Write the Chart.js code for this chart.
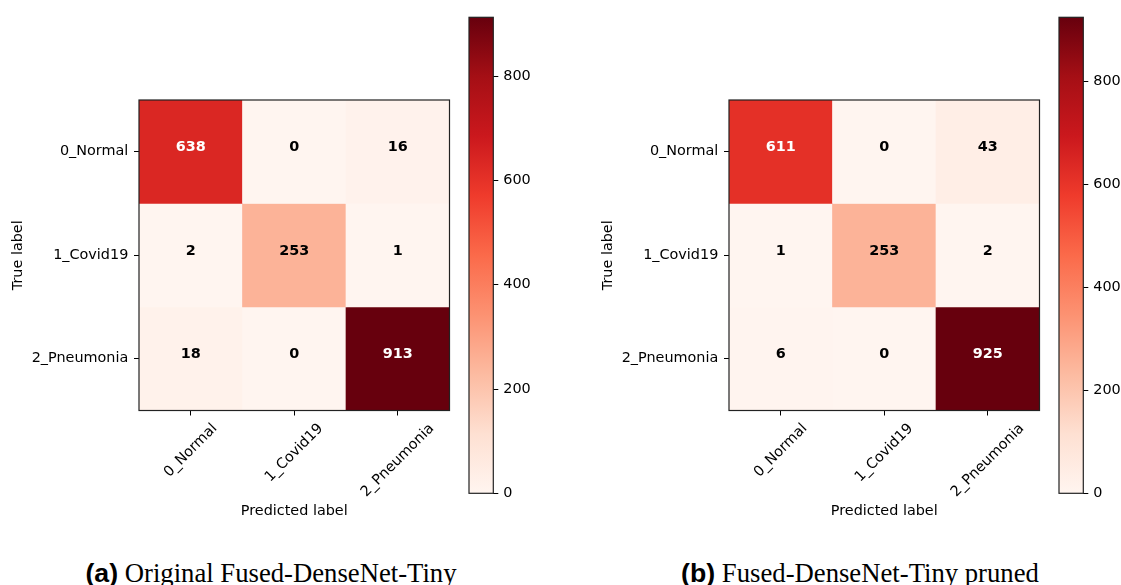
<!DOCTYPE html>
<html>
<head>
<meta charset="utf-8">
<script src="https://cdn.jsdelivr.net/npm/chart.js@4.4.1/dist/chart.umd.min.js"></script>
<style>
  html, body { margin: 0; padding: 0; background: #fff; overflow: hidden; }
  #fig { position: relative; width: 1121px; height: 585px; background: #fff; }
  #fig canvas { position: absolute; top: 0; }
  .cap {
    position: absolute; top: 560px;
    font-family: 'Liberation Serif', 'Times New Roman', serif;
    font-size: 26.7px; line-height: 26.5px; white-space: nowrap; color: #000;
    transform: translateX(-50%);
  }
  .cap b { font-family: 'Liberation Sans', Arial, sans-serif; font-weight: bold; }
</style>
</head>
<body>
<div id="fig">
  <canvas id="cmA" width="460" height="540" style="left:0px"></canvas>
  <canvas id="cbA" width="90" height="540" style="left:460px"></canvas>
  <canvas id="cmB" width="460" height="540" style="left:590px"></canvas>
  <canvas id="cbB" width="71" height="540" style="left:1050px"></canvas>
  <div class="cap" style="left:271px"><b>(a)</b> Original Fused-DenseNet-Tiny</div>
  <div class="cap" style="left:860px"><b>(b)</b> Fused-DenseNet-Tiny pruned</div>
</div>
<script>
// Class names shared by both axes
const classNames = ['0_Normal', '1_Covid19', '2_Pneumonia'];

// Confusion matrices: rows = true label, columns = predicted label
const originalRows = [
  [638, 0, 16],
  [2, 253, 1],
  [18, 0, 913]
];
const prunedRows = [
  [611, 0, 43],
  [1, 253, 2],
  [6, 0, 925]
];

// Colorbar tick values
const colorbarTicks = [0, 200, 400, 600, 800];

const FONT_SIZE = 14.4;
Chart.defaults.font.family = "'DejaVu Sans', 'Liberation Sans', sans-serif";
Chart.defaults.font.size = FONT_SIZE;
Chart.defaults.color = '#000';

// Sequential "Reds" colour ramp
const REDS = [
  [255, 245, 240], [254, 224, 210], [252, 187, 161], [252, 146, 114],
  [251, 106, 74], [239, 59, 44], [203, 24, 29], [165, 15, 21], [103, 0, 13]
];
function reds(t) {
  t = Math.min(1, Math.max(0, t));
  const idx = Math.min(255, Math.floor(t * 256));
  const u = idx / 255 * 8;
  const i = Math.min(7, Math.floor(u));
  const f = u - i;
  const c = REDS[i].map((v, k) => Math.round(v + (REDS[i + 1][k] - v) * f));
  return `rgb(${c[0]},${c[1]},${c[2]})`;
}

const AXIS_LEFT = 139, AXIS_RIGHT = 449.5, AXIS_TOP = 100, AXIS_BOTTOM = 410.5;
const TICK_LEN = 5;

// Box around the plotting area
const framePlugin = {
  id: 'frame',
  afterDatasetsDraw(chart) {
    const { ctx, chartArea: a } = chart;
    ctx.save();
    ctx.strokeStyle = '#222';
    ctx.lineWidth = 1.2;
    ctx.strokeRect(a.left, a.top, a.right - a.left, a.bottom - a.top);
    ctx.restore();
  }
};

// Count written at the centre of each cell
const cellValuePlugin = {
  id: 'cellValues',
  afterDatasetsDraw(chart) {
    const { ctx } = chart;
    const all = chart.data.datasets.flatMap(d => d.counts);
    const thresh = Math.max(...all) / 2;
    ctx.save();
    ctx.font = `bold ${FONT_SIZE}px 'DejaVu Sans', sans-serif`;
    ctx.textAlign = 'center';
    ctx.textBaseline = 'middle';
    chart.data.datasets.forEach((ds, di) => {
      chart.getDatasetMeta(di).data.forEach((bar, ci) => {
        const v = ds.counts[ci];
        ctx.fillStyle = v > thresh ? '#fff' : '#000';
        ctx.fillText(String(v), bar.x, (bar.y + bar.base) / 2 - 4);
      });
    });
    ctx.restore();
  }
};

// Predicted-class names under the x axis, turned 45 degrees and centred on their ticks
const rotatedXLabels = {
  id: 'rotatedXLabels',
  afterDraw(chart) {
    const { ctx } = chart;
    const sx = chart.scales.x;
    ctx.save();
    ctx.font = `${FONT_SIZE}px 'DejaVu Sans', sans-serif`;
    ctx.fillStyle = '#000';
    ctx.textAlign = 'right';
    ctx.textBaseline = 'alphabetic';
    sx.ticks.forEach((t, i) => {
      const label = sx.getLabelForValue(t.value);
      const w = ctx.measureText(label).width;
      const px = sx.getPixelForTick(i) + 0.354 * w + 2.6;
      const py = chart.chartArea.bottom + 18.5;
      ctx.save();
      ctx.translate(px, py);
      ctx.rotate(-Math.PI / 4);
      ctx.fillText(label, 0, 0);
      ctx.restore();
    });
    ctx.restore();
  }
};

function matrixChart(id, rows) {
  const flat = rows.flat();
  const vmin = Math.min(...flat), vmax = Math.max(...flat);
  const canvas = document.getElementById(id);
  const W = canvas.width, H = canvas.height;
  const xBottom = 520.3;
  const datasets = rows.map((row, r) => ({
    label: classNames[r],
    data: row.map(() => [r, r + 1]),
    counts: row,
    backgroundColor: row.map(v => reds((v - vmin) / (vmax - vmin))),
    borderWidth: 0,
    grouped: false,
    barPercentage: 1,
    categoryPercentage: 1
  }));
  return new Chart(canvas, {
    type: 'bar',
    data: { labels: classNames, datasets },
    options: {
      responsive: false,
      animation: false,
      layout: { padding: { left: 0, top: AXIS_TOP, right: W - AXIS_RIGHT, bottom: H - xBottom } },
      plugins: { legend: { display: false }, tooltip: { enabled: false } },
      scales: {
        x: {
          type: 'category',
          offset: true,
          grid: { offset: false, drawOnChartArea: false, drawTicks: true, tickLength: TICK_LEN, color: '#000', lineWidth: 1 },
          border: { display: false },
          ticks: { display: false, autoSkip: false },
          title: { display: true, text: 'Predicted label', padding: { top: 0, bottom: 0 }, font: { size: FONT_SIZE } },
          afterFit(s) { s.height = xBottom - AXIS_BOTTOM; }
        },
        y: {
          type: 'linear',
          min: 0, max: 3,
          reverse: true,
          grid: { drawOnChartArea: false, drawTicks: true, tickLength: TICK_LEN, color: '#000', lineWidth: 1 },
          border: { display: false },
          afterBuildTicks(s) { s.ticks = classNames.map((_, i) => ({ value: i + 0.5 })); },
          ticks: {
            autoSkip: false, padding: 5.7,
            callback: v => classNames[Math.floor(v)]
          },
          title: { display: true, text: 'True label', padding: { top: 9.6, bottom: 0 }, font: { size: FONT_SIZE } },
          afterFit(s) { s.width = AXIS_LEFT; }
        }
      }
    },
    plugins: [cellValuePlugin, framePlugin, rotatedXLabels]
  });
}

function colorbarChart(id, rows) {
  const vmax = Math.max(...rows.flat());
  const canvas = document.getElementById(id);
  const W = canvas.width, H = canvas.height;
  const left = 9, barW = 24.3, top = 17.3, bottom = 493.3;
  return new Chart(canvas, {
    type: 'bar',
    data: {
      labels: [''],
      datasets: [{
        data: [[0, vmax]],
        backgroundColor(c) {
          const a = c.chart.chartArea;
          if (!a) return null;
          const g = c.chart.ctx.createLinearGradient(0, a.bottom, 0, a.top);
          REDS.forEach((col, i) => g.addColorStop(i / 8, `rgb(${col[0]},${col[1]},${col[2]})`));
          return g;
        },
        borderWidth: 0,
        barPercentage: 1,
        categoryPercentage: 1
      }]
    },
    options: {
      responsive: false,
      animation: false,
      layout: { padding: { left, top, right: 0, bottom: H - bottom } },
      plugins: { legend: { display: false }, tooltip: { enabled: false } },
      scales: {
        x: { display: false },
        y: {
          position: 'right',
          min: 0, max: vmax,
          grid: { drawOnChartArea: false, drawTicks: true, tickLength: TICK_LEN, color: '#000', lineWidth: 1 },
          border: { display: false },
          afterBuildTicks(s) { s.ticks = colorbarTicks.map(v => ({ value: v })); },
          ticks: { padding: 5, autoSkip: false, includeBounds: false },
          afterFit(s) { s.width = W - left - barW; }
        }
      }
    },
    plugins: [framePlugin]
  });
}

matrixChart('cmA', originalRows);
colorbarChart('cbA', originalRows);
matrixChart('cmB', prunedRows);
colorbarChart('cbB', prunedRows);
</script>
</body>
</html>
